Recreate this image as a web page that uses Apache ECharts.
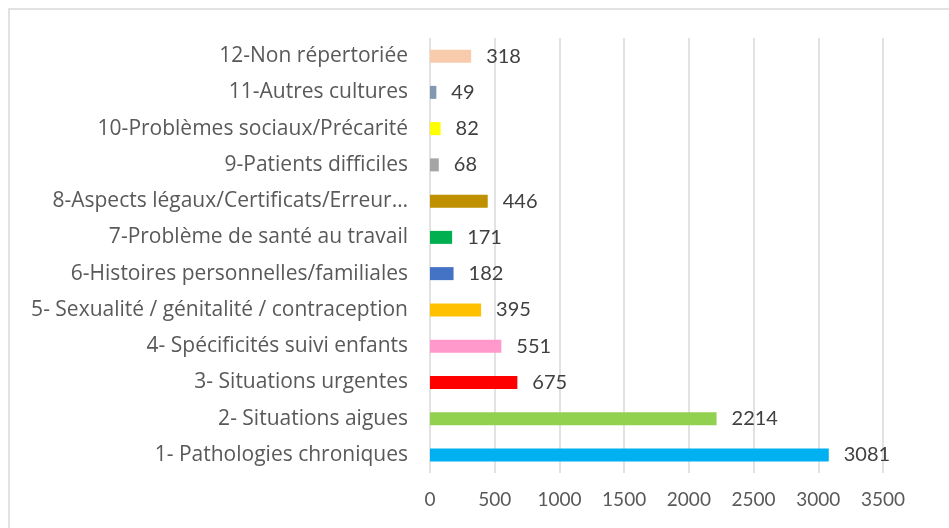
<!DOCTYPE html>
<html>
<head>
<meta charset="utf-8">
<script src="https://cdn.jsdelivr.net/npm/echarts@6/dist/echarts.min.js"></script>
<style>
html,body{margin:0;padding:0;background:#fff;}
#c{width:949px;height:528px;}
</style>
</head>
<body>
<div id="c"></div>
<script>
const categories = [
  "1- Pathologies chroniques",
  "2- Situations aigues",
  "3- Situations urgentes",
  "4- Spécificités suivi enfants",
  "5- Sexualité / génitalité / contraception",
  "6-Histoires personnelles/familiales",
  "7-Problème de santé au travail",
  "8-Aspects légaux/Certificats/Erreur…",
  "9-Patients difficiles",
  "10-Problèmes sociaux/Précarité",
  "11-Autres cultures",
  "12-Non répertoriée"
];
const values = [3081, 2214, 675, 551, 395, 182, 171, 446, 68, 82, 49, 318];
const barColors = ["#00B0F0", "#92D050", "#FF0000", "#FF99CC", "#FFC000", "#4472C4", "#00B050", "#BF9000", "#A5A5A5", "#FFFF00", "#8497B0", "#F8CBAD"];
const xTicks = [0, 500, 1000, 1500, 2000, 2500, 3000, 3500];

const numFont = "Lato, 'Liberation Sans', sans-serif";
const catFont = "'Open Sans', 'Noto Sans', sans-serif";
const chart = echarts.init(document.getElementById('c'), null, {renderer: 'canvas'});
chart.setOption({
  animation: false,
  backgroundColor: '#ffffff',
  graphic: [{
    type: 'rect',
    shape: {x: 9, y: 9, width: 1000, height: 600},
    style: {fill: 'none', stroke: '#d9d9d9', lineWidth: 1.5},
    silent: true
  }],
  grid: {left: 430, right: 66, top: 38, bottom: 55, containLabel: false},
  xAxis: {
    type: 'value',
    min: xTicks[0],
    max: xTicks[xTicks.length - 1],
    interval: 500,
    axisLine: {show: false},
    axisTick: {show: false},
    splitLine: {show: true, lineStyle: {color: '#d9d9d9', width: 1.5}},
    axisLabel: {color: '#595959', fontFamily: numFont, fontSize: 19, margin: 17,
      formatter: v => String(v)}
  },
  yAxis: {
    type: 'category',
    data: categories,
    axisLine: {show: false},
    axisTick: {show: false},
    axisLabel: {color: '#595959', fontFamily: catFont, fontSize: 21, margin: 22,
      padding: [4, 0, 0, 0]}
  },
  series: [{
    type: 'bar',
    barWidth: 13,
    data: values.map((v, i) => ({value: v, itemStyle: {color: barColors[i]}})),
    label: {
      show: true,
      position: 'right',
      distance: 15,
      color: '#404040',
      fontFamily: numFont,
      fontSize: 20
    }
  }]
});
</script>
</body>
</html>
